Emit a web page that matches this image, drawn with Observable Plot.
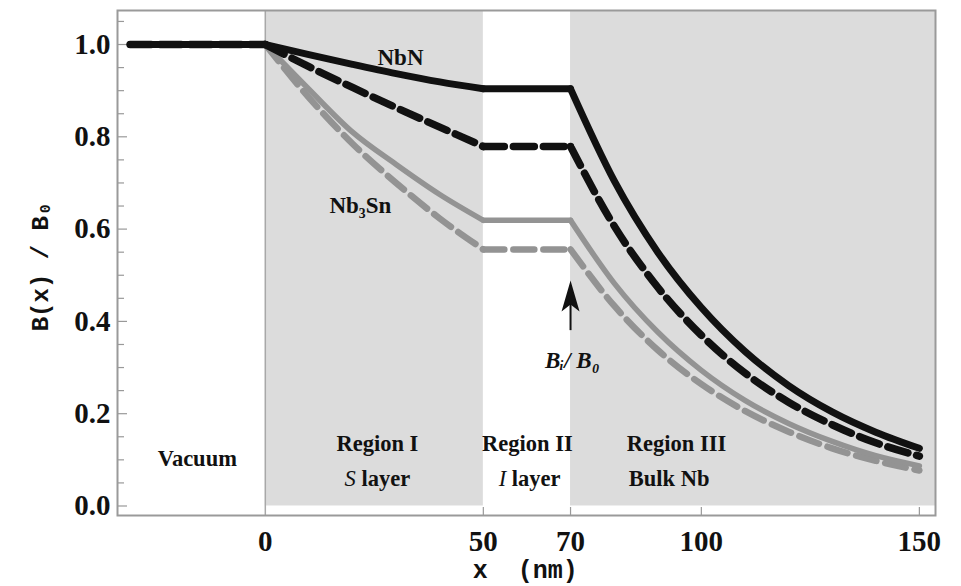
<!DOCTYPE html>
<html><head><meta charset="utf-8">
<script src="https://cdn.jsdelivr.net/npm/d3@7"></script>
<script src="https://cdn.jsdelivr.net/npm/@observablehq/plot@0.6"></script>
<style>body{margin:0;background:#fff;}</style>
</head><body><div id="chart"></div>
<script>
// positions along x (nm)
const xs          = [-31, 0, 10, 20, 30, 40, 50, 70, 80, 90, 100, 110, 120, 130, 140, 150];
// B(x)/B0 for each curve
const nbnSolid    = [1, 1, 0.978, 0.957, 0.937, 0.919, 0.904, 0.904, 0.705, 0.550, 0.430, 0.335, 0.261, 0.204, 0.160, 0.125];
const nbnDashed   = [1, 1, 0.952, 0.907, 0.863, 0.821, 0.779, 0.779, 0.607, 0.474, 0.370, 0.288, 0.225, 0.176, 0.137, 0.108];
const nb3snSolid  = [1, 1, 0.903, 0.810, 0.740, 0.675, 0.619, 0.619, 0.483, 0.377, 0.294, 0.229, 0.179, 0.140, 0.109, 0.087];
const nb3snDashed = [1, 1, 0.885, 0.785, 0.700, 0.623, 0.556, 0.556, 0.434, 0.338, 0.264, 0.206, 0.161, 0.125, 0.098, 0.077];

const xTicks = [0, 50, 70, 100, 150];
const yTicks = [0, 0.2, 0.4, 0.6, 0.8, 1.0];
const yMinor = [0.05, 0.1, 0.15, 0.25, 0.3, 0.35, 0.45, 0.5, 0.55, 0.65, 0.7, 0.75, 0.85, 0.9, 0.95, 1.05];
const regionBounds = [["vacuum", -Infinity, 0], ["I", 0, 50], ["II", 50, 70], ["III", 70, Infinity]];

const xDomain = [-33.9, 153.7];
const yDomain = [-0.0206, 1.0737];
const shaded = [{x1: 0, x2: 50}, {x1: 70, x2: xDomain[1]}];

const W = 961, H = 586, mL = 117, mR = 26, mT = 10, mB = 71;
const frameW = W - mL - mR, frameH = H - mT - mB;

function rows(vals) {
  const out = [];
  for (const [seg, lo, hi] of regionBounds)
    xs.forEach((x, i) => { if (x >= lo && x <= hi) out.push({seg, x, y: vals[i]}); });
  return out;
}

const head = {draw(ctx) { ctx.moveTo(0, 0); ctx.lineTo(-9, 31); ctx.lineTo(0, 24); ctx.lineTo(9, 31); ctx.closePath(); }};

const serif = "'Liberation Serif', 'Times New Roman', serif";
const mono = "'Liberation Mono', 'DejaVu Sans Mono', monospace";
const dash = "21,9";

const chart = Plot.plot({
  width: W, height: H,
  marginLeft: mL, marginRight: mR, marginTop: mT, marginBottom: mB,
  style: {fontFamily: serif, fontWeight: "bold", background: "#fff", color: "#111"},
  x: {domain: xDomain},
  y: {domain: yDomain},
  marks: [
    Plot.rect(shaded, {x1: "x1", x2: "x2", y1: 0, y2: yDomain[1], fill: "#dcdcdc"}),
    Plot.ruleX([0], {stroke: "#a8a8a8", strokeWidth: 1.5}),
    // inward ticks
    Plot.ruleY(yMinor, {stroke: "#999", strokeWidth: 1.2, insetRight: frameW - 7}),
    Plot.ruleY(yTicks, {stroke: "#999", strokeWidth: 1.2, insetRight: frameW - 10}),
    Plot.ruleX(xTicks.filter(d => d !== 0), {stroke: "#999", strokeWidth: 1.2, insetTop: frameH - 8}),
    Plot.axisY(yTicks, {anchor: "left", tickSize: 0, tickPadding: 7, fontSize: 29, tickFormat: d3.format(".1f"), label: null}),
    Plot.axisX(xTicks, {anchor: "bottom", tickSize: 0, tickPadding: 15, fontSize: 29, label: null}),
    Plot.line(rows(nb3snDashed), {x: "x", y: "y", z: "seg", curve: "monotone-x", stroke: "#939393", strokeWidth: 6.5, strokeDasharray: dash}),
    Plot.line(rows(nb3snSolid), {x: "x", y: "y", z: "seg", curve: "monotone-x", stroke: "#939393", strokeWidth: 5.5}),
    Plot.line(rows(nbnDashed), {x: "x", y: "y", z: "seg", curve: "monotone-x", stroke: "#111", strokeWidth: 7.5, strokeDasharray: dash}),
    Plot.line(rows(nbnSolid), {x: "x", y: "y", z: "seg", curve: "monotone-x", stroke: "#111", strokeWidth: 7}),
    Plot.text(["NbN"], {x: 31, y: 0.972, fontSize: 23}),
    Plot.text(["Nb\u2083Sn"], {x: 21.8, y: 0.651, fontSize: 23}),
    Plot.text(["Vacuum"], {x: -15.6, y: 0.103, fontSize: 22.5}),
    Plot.text(["Region I"], {x: 25.7, y: 0.135, fontSize: 22.5}),
    Plot.text(["S layer"], {x: 25.7, y: 0.058, fontSize: 22.5}),
    Plot.text(["Region II"], {x: 60.1, y: 0.135, fontSize: 22.5}),
    Plot.text(["I layer"], {x: 60.6, y: 0.058, fontSize: 22.5}),
    Plot.text(["Region III"], {x: 94.3, y: 0.135, fontSize: 22.5}),
    Plot.text(["Bulk Nb"], {x: 92.6, y: 0.058, fontSize: 22.5}),
    Plot.ruleX([70], {y1: 0.38, y2: 0.45, stroke: "#111", strokeWidth: 2}),
    Plot.dot([70], {x: d => d, y: 0.4886, symbol: head, fill: "#111", stroke: null}),
    Plot.text(["B\u1d62/ B\u2080"], {x: 70.4, y: 0.315, fontSize: 23, fontStyle: "italic"}),
    Plot.text(["B(x) / B\u2080"], {frameAnchor: "left", textAnchor: "middle", y: 0.519, dx: -77, rotate: -90, fontSize: 24, fontFamily: mono}),
    Plot.text(["x\u00a0\u00a0(nm)"], {frameAnchor: "bottom", x: 59.6, dy: 62, fontSize: 25, fontFamily: mono}),
    Plot.frame({stroke: "#9a9a9a", strokeWidth: 2})
  ]
});
document.getElementById("chart").appendChild(chart);

// italic S and I in the layer labels
d3.select(chart).selectAll("text").each(function() {
  const t = this.textContent;
  if (t === "S layer" || t === "I layer") {
    const el = d3.select(this);
    el.text(null);
    el.append("tspan").attr("font-style", "italic").attr("font-weight", "normal").text(t[0]);
    el.append("tspan").text(" layer");
  }
});
</script>
</body></html>
